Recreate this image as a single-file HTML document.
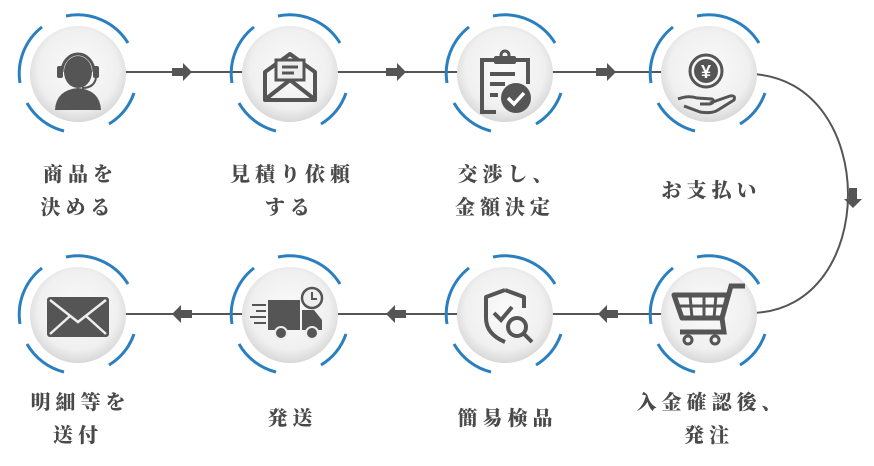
<!DOCTYPE html>
<html><head><meta charset="utf-8"><style>
html,body{margin:0;padding:0;background:#fff}
body{width:874px;height:466px;position:relative;overflow:hidden}
svg{position:absolute;left:0;top:0}
.lb{position:absolute;width:200px;text-align:center;font-family:"Noto Serif CJK SC","Noto Sans CJK JP",serif;font-weight:900;font-size:20px;line-height:33px;color:#4a4a4a;letter-spacing:5px;text-indent:5px}
</style></head><body>
<svg width="874" height="466" viewBox="0 0 874 466">
<defs>
<radialGradient id="g" cx="50%" cy="45%" r="55%">
<stop offset="0" stop-color="#fafafa"/><stop offset="0.75" stop-color="#f0f0f0"/><stop offset="1" stop-color="#d8d8d8"/>
</radialGradient>
<g id="arcs" fill="none" stroke="#2a7fc0" stroke-width="3">
<path d="M-12,-58 A59,59 0 0 1 50,-31"/>
<path d="M56,19 A59,59 0 0 1 31,50"/>
<path d="M-14,57 A59,59 0 0 1 -51,29"/>
<path d="M-58,9 A59,59 0 0 1 -36,-47"/>
</g>
<g id="ar"><rect x="-10" y="-4" width="12" height="8" fill="#555"/><path d="M1,-9 L10,0 L1,9 Z" fill="#555"/></g>
</defs>
<g stroke="#555" stroke-width="2" fill="none">
<line x1="120" y1="72" x2="670" y2="72"/>
<line x1="120" y1="314" x2="670" y2="314"/>
<path d="M752,74 C880,80 880,310 752,313"/>
</g>
<use href="#ar" x="182" y="72"/><use href="#ar" x="396" y="72"/><use href="#ar" x="606" y="72"/>
<use href="#ar" x="182" y="314" transform="rotate(180 182 314)"/>
<use href="#ar" x="396" y="314" transform="rotate(180 396 314)"/>
<use href="#ar" x="608" y="314" transform="rotate(180 608 314)"/>
<use href="#ar" x="853" y="198" transform="rotate(90 853 198)"/>
<g>
<circle cx="78" cy="74" r="48" fill="url(#g)"/><use href="#arcs" x="78" y="74"/>
<circle cx="290" cy="74" r="48" fill="url(#g)"/><use href="#arcs" x="290" y="74"/>
<circle cx="505" cy="74" r="48" fill="url(#g)"/><use href="#arcs" x="505" y="74"/>
<circle cx="709" cy="74" r="48" fill="url(#g)"/><use href="#arcs" x="709" y="74"/>
<circle cx="78" cy="315" r="48" fill="url(#g)"/><use href="#arcs" x="78" y="315"/>
<circle cx="290" cy="315" r="48" fill="url(#g)"/><use href="#arcs" x="290" y="315"/>
<circle cx="505" cy="315" r="48" fill="url(#g)"/><use href="#arcs" x="505" y="315"/>
<circle cx="709" cy="315" r="48" fill="url(#g)"/><use href="#arcs" x="709" y="315"/>
</g>
<g fill="#555" stroke="#555">
<ellipse cx="78" cy="72" rx="14" ry="16" stroke="none"/>
<path d="M62,72 A16,18 0 0 1 94,72" fill="none" stroke-width="3"/>
<rect x="57" y="66" width="6" height="12" rx="2" stroke="none"/><rect x="93" y="66" width="6" height="12" rx="2" stroke="none"/>
<path d="M96,78 Q94,88 82,88" fill="none" stroke-width="2"/>
<path d="M55,110 Q56,90 78,88 Q100,90 101,110 Z" stroke="none"/>
<path d="M265,72 L290,54 L315,72 L315,100 L265,100 Z" fill="none" stroke-width="4" stroke-linejoin="round"/>
<path d="M267,98 L290,80 L313,98" fill="none" stroke-width="4"/>
<rect x="276" y="60" width="28" height="20" fill="#eee" stroke-width="3"/>
<line x1="282" y1="67" x2="298" y2="67" stroke-width="3"/><line x1="282" y1="73" x2="294" y2="73" stroke-width="3"/>
<path d="M494,60 L482,60 L482,112 L496,112 M516,60 L528,60 L528,84" fill="none" stroke-width="4"/>
<rect x="494" y="56" width="22" height="8" rx="2" stroke="none"/><circle cx="505" cy="55" r="4" fill="none" stroke-width="3"/>
<line x1="490" y1="74" x2="515" y2="74" stroke-width="4"/><line x1="490" y1="84" x2="505" y2="84" stroke-width="4"/><line x1="490" y1="95" x2="498" y2="95" stroke-width="4"/>
<circle cx="516" cy="98" r="15" stroke="none"/>
<path d="M508,98 L514,104 L524,93" fill="none" stroke="#fff" stroke-width="3.5"/>
<circle cx="706" cy="71" r="16" fill="none" stroke-width="3"/><circle cx="706" cy="71" r="12" stroke="none"/>
<text x="706" y="78" font-family="Liberation Sans,sans-serif" font-size="18" font-weight="bold" fill="#fff" stroke="none" text-anchor="middle">¥</text>
<path d="M678,99 Q688,95 697,98 L712,99 Q716,102 710,104 L700,104 M710,103 L730,96 Q736,95 734,100 L718,110 Q712,114 700,112 L684,106" fill="none" stroke-width="3" stroke-linejoin="round"/>
<rect x="47" y="297" width="62" height="40" rx="3" stroke="none"/>
<path d="M50,300 L78,322 L106,300 M50,334 L70,316 M106,334 L86,316" fill="none" stroke="#eee" stroke-width="2.5"/>
<path d="M268,300 L300,300 L300,330 L268,330 Z" stroke="none"/>
<path d="M302,310 L314,310 L322,320 L322,330 L302,330 Z" stroke="none"/>
<circle cx="281" cy="333" r="6" stroke="#eee" stroke-width="2"/><circle cx="312" cy="333" r="6" stroke="#eee" stroke-width="2"/>
<g stroke-width="2"><line x1="252" y1="305" x2="266" y2="305"/><line x1="256" y1="311" x2="266" y2="311"/><line x1="250" y1="317" x2="266" y2="317"/><line x1="254" y1="323" x2="266" y2="323"/></g>
<circle cx="312" cy="298" r="10" fill="#eee" stroke-width="2.5"/><path d="M312,292 L312,299 L317,299" fill="none" stroke-width="2"/>
<path d="M505,290 L486,297 L486,318 Q486,334 505,342" fill="none" stroke-width="4" stroke-linejoin="round"/>
<path d="M505,290 L524,297 L524,308" fill="none" stroke-width="4" stroke-linejoin="round"/>
<path d="M494,313 L501,320 L512,307" fill="none" stroke-width="4"/>
<circle cx="517" cy="327" r="9" fill="none" stroke-width="4"/><line x1="524" y1="334" x2="532" y2="342" stroke-width="4"/>
<path d="M674,295 L728,295 L722,318 L682,318 Z" fill="none" stroke-width="5" stroke-linejoin="round"/>
<path d="M722,318 L731,286 L745,286" fill="none" stroke-width="5"/>
<line x1="678" y1="306" x2="726" y2="306" stroke-width="3"/><line x1="690" y1="295" x2="692" y2="318" stroke-width="3"/><line x1="704" y1="295" x2="704" y2="318" stroke-width="3"/><line x1="716" y1="295" x2="714" y2="318" stroke-width="3"/>
<path d="M722,318 L724,332 L680,332" fill="none" stroke-width="5"/>
<circle cx="688" cy="340" r="4" fill="none" stroke-width="3"/><circle cx="715" cy="340" r="4" fill="none" stroke-width="3"/>
</g>
</svg>
<div class="lb" style="left:-22px;top:156px">商品を<br>決める</div>
<div class="lb" style="left:190px;top:156px">見積り依頼<br>する</div>
<div class="lb" style="left:405px;top:156px">交渉し、<br>金額決定</div>
<div class="lb" style="left:609px;top:172px">お支払い</div>
<div class="lb" style="left:-22px;top:384px">明細等を<br>送付</div>
<div class="lb" style="left:190px;top:400px">発送</div>
<div class="lb" style="left:405px;top:400px">簡易検品</div>
<div class="lb" style="left:609px;top:384px">入金確認後、<br>発注</div>
</body></html>
